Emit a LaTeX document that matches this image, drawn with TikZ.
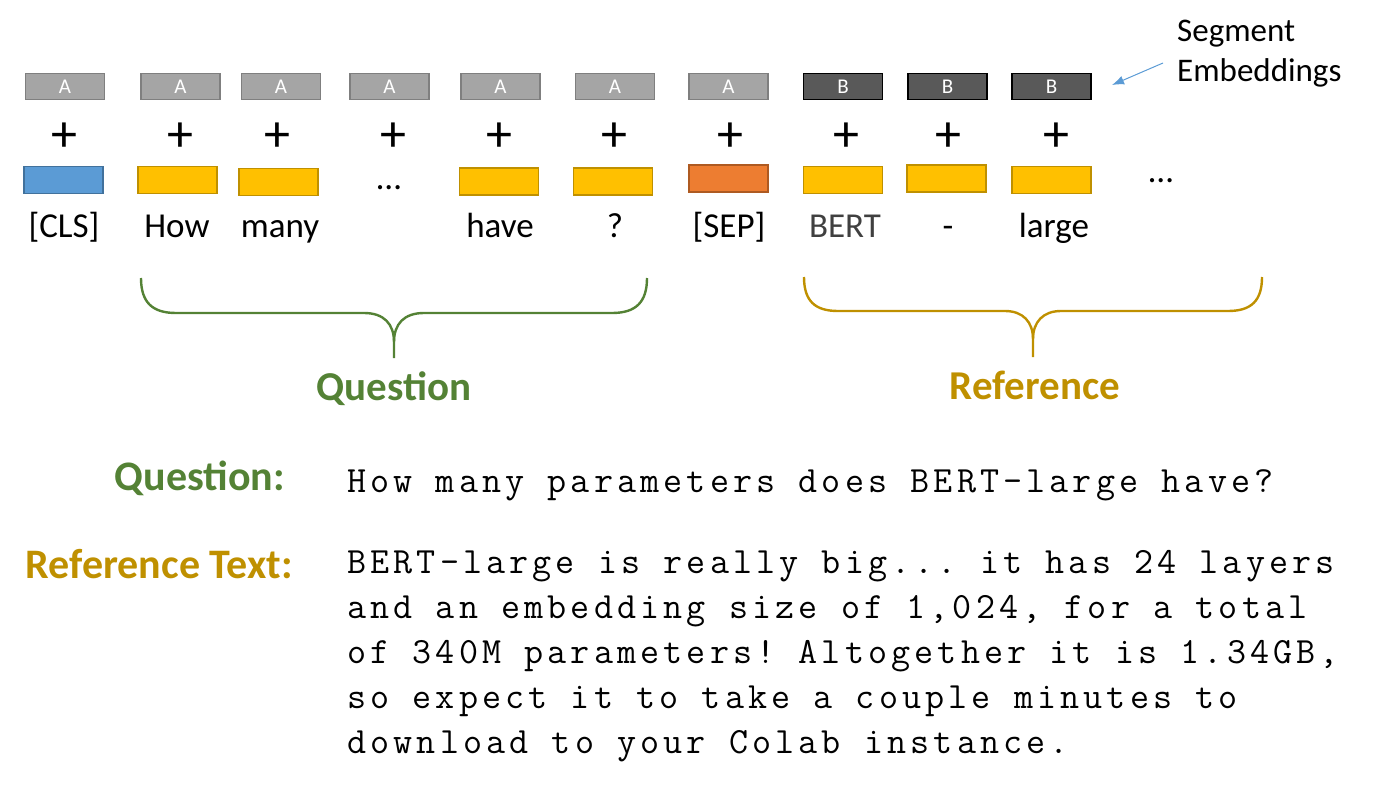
\documentclass[tikz,border=0pt]{standalone}
\usepackage{fontspec}
\setmainfont{Carlito}
\setmonofont[LetterSpace=11.2]{Latin Modern Mono}
\usetikzlibrary{arrows.meta}
\definecolor{segAfill}{HTML}{A5A5A5}
\definecolor{segAdraw}{HTML}{7F7F7F}
\definecolor{segBfill}{HTML}{595959}
\definecolor{clsfill}{HTML}{5B9BD5}
\definecolor{clsdraw}{HTML}{41719C}
\definecolor{yelfill}{HTML}{FFC000}
\definecolor{yeldraw}{HTML}{BF9000}
\definecolor{sepfill}{HTML}{ED7D31}
\definecolor{sepdraw}{HTML}{AE5A21}
\definecolor{qgreen}{HTML}{548235}
\definecolor{rgold}{HTML}{BF9000}
\definecolor{bertgray}{HTML}{404040}
\definecolor{arrblue}{HTML}{5B9BD5}
\begin{document}
\begin{tikzpicture}[x=1pt,y=-1pt,
  segA/.style={draw=segAdraw, fill=segAfill, line width=1.5pt, minimum width=79pt, minimum height=26pt, inner sep=0pt, text=white, font=\fontsize{21}{22}\selectfont},
  segB/.style={segA, draw=black, fill=segBfill},
  tokbox/.style={line width=1.5pt, minimum width=79pt, minimum height=27pt, inner sep=0pt},
  clsbox/.style={tokbox, draw=clsdraw, fill=clsfill},
  yelbox/.style={tokbox, draw=yeldraw, fill=yelfill},
  sepbox/.style={tokbox, draw=sepdraw, fill=sepfill},
  plussign/.style={inner sep=0pt, font=\fontsize{52}{54}\selectfont},
  lbl/.style={inner sep=0pt, anchor=base, font=\fontsize{35}{42}\selectfont},
  bracelbl/.style={inner sep=0pt, anchor=base, font=\fontsize{41}{48}\selectfont\bfseries},
  sidelbl/.style={inner sep=0pt, anchor=base east, font=\fontsize{42}{48}\selectfont\bfseries},
  monoline/.style={inner sep=0pt, anchor=base west, font=\fontsize{37}{45}\selectfont\ttfamily},
  brace/.style={line width=2.4pt},
]
\useasboundingbox (0,0) rectangle (1378,789);

% segment embeddings
\node[segA] (sCLS)  at (65,86.5)    {A};
\node[segA] (sHow)  at (180.5,86.5) {A};
\node[segA] (sMany) at (281,86.5)   {A};
\node[segA] (sDots) at (389.5,86.5) {A};
\node[segA] (sHave) at (500.5,86.5) {A};
\node[segA] (sQ)    at (615,86.5)   {A};
\node[segA] (sSep)  at (728.5,86.5) {A};
\node[segB] (sBert) at (843,86.5)   {B};
\node[segB] (sDash) at (947.5,86.5) {B};
\node[segB] (sLarge) at (1051.5,86.5) {B};

% plus signs
\node[plussign] (p1)  at (64,137)  {+};
\node[plussign] (p2)  at (180,137) {+};
\node[plussign] (p3)  at (277,137) {+};
\node[plussign] (p4)  at (393,137) {+};
\node[plussign] (p5)  at (499,137) {+};
\node[plussign] (p6)  at (614,137) {+};
\node[plussign] (p7)  at (730,137) {+};
\node[plussign] (p8)  at (846,137) {+};
\node[plussign] (p9)  at (948,137) {+};
\node[plussign] (p10) at (1056,137) {+};

% token embeddings
\node[clsbox] (tCLS)  at (63.5,180)  {};
\node[yelbox] (tHow)  at (177.5,180) {};
\node[yelbox] (tMany) at (278.5,182) {};
\node[lbl]    (tDots) at (389,189)   {…};
\node[yelbox] (tHave) at (499,181.5) {};
\node[yelbox] (tQ)    at (613,181.5) {};
\node[sepbox] (tSep)  at (728.5,178.5) {};
\node[yelbox] (tBert) at (843,180)   {};
\node[yelbox] (tDash) at (946.5,178.5) {};
\node[yelbox] (tLarge) at (1051.5,180) {};
\node[lbl]    (tMore) at (1161,182)  {…};

% token labels
\node[lbl] (lCLS)  at (64,237)  {[CLS]};
\node[lbl] (lHow)  at (177,237) {How};
\node[lbl] (lMany) at (280,237) {many};
\node[lbl] (lHave) at (500,237) {have};
\node[lbl] (lQ)    at (615,237) {?};
\node[lbl] (lSep)  at (729,237) {[SEP]};
\node[lbl, text=bertgray] (lBert) at (845,237) {BERT};
\node[lbl] (lDash) at (948,237) {-};
\node[lbl] (lLarge) at (1054,237) {large};

% segment embeddings annotation
\node[inner sep=0pt, anchor=base west, font=\fontsize{33}{40}\selectfont] (segT1) at (1177,42) {Segment};
\node[inner sep=0pt, anchor=base west, font=\fontsize{33}{40}\selectfont] (segT2) at (1177,82) {Embeddings};
\coordinate (arrStart) at (1163,63);
\coordinate (arrTip) at (1112,85);
\draw[arrblue, line width=1pt, -{Latex[length=12pt,width=9pt]}] (arrStart) -- (arrTip);

% braces
\draw[brace, qgreen] (141,278) .. controls (141,302) and (152,313) .. (176,313) -- (364,313)
   .. controls (384,313) and (394,324) .. (394,342) -- (394,358);
\draw[brace, qgreen] (647,278) .. controls (647,302) and (636,313) .. (612,313) -- (424,313)
   .. controls (404,313) and (394,324) .. (394,342);
\draw[brace, rgold] (804,277) .. controls (804,301) and (815,311) .. (838,311) -- (1005,311)
   .. controls (1023,311) and (1033,322) .. (1033,339) -- (1033,357);
\draw[brace, rgold] (1262,277) .. controls (1262,301) and (1251,311) .. (1228,311) -- (1061,311)
   .. controls (1043,311) and (1033,322) .. (1033,339);

\node[bracelbl, text=qgreen] (qLabel) at (394,400) {Question};
\node[bracelbl, text=rgold]  (rLabel) at (1035,399) {Reference};

% lower texts
\node[sidelbl, text=qgreen] (qSide) at (285,490) {Question:};
\node[sidelbl, text=rgold]  (rSide) at (293,578) {Reference Text:};

\node[monoline] (qText) at (347,492) {How many parameters does BERT-large have?};
\node[monoline] (r1) at (347,573) {BERT-large is really big... it has 24 layers};
\node[monoline] (r2) at (347,618) {and an embedding size of 1,024, for a total};
\node[monoline] (r3) at (347,663) {of 340M parameters! Altogether it is 1.34GB,};
\node[monoline] (r4) at (347,708) {so expect it to take a couple minutes to};
\node[monoline] (r5) at (347,753) {download to your Colab instance.};
\end{tikzpicture}
\end{document}
